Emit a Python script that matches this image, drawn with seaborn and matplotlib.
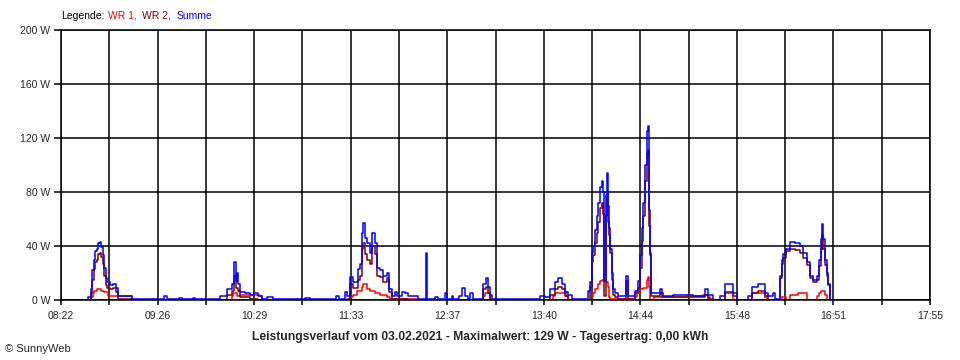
import numpy as np
import seaborn as sns
import matplotlib.pyplot as plt
from matplotlib.ticker import FixedLocator

# time in minutes since 08:22, power in W (step values)
t_sum = [0, 18.0, 19.5, 20.5, 21.5, 22.5, 23.5, 24.5, 25.5, 26.5, 27.5, 28.5, 29.5, 30.5, 32.0, 34.0,
         36.0, 37.6, 46.8, 68.0, 70.0, 78.0, 79.5, 87.0, 88.5, 104.8, 109.5, 112.8, 114.3, 115.2,
         115.8, 116.5, 118.0, 121.0, 124.6, 127.5, 130.0, 132.5, 136.0, 140.0, 160.9, 164.2, 181.3,
         183.3, 187.3, 188.6, 190.6, 192.5, 195.8, 197.2, 198.5, 199.1, 200.5, 201.8, 203.8, 205.1,
         207.0, 208.4, 210.3, 212.3, 215.0, 216.3, 218.3, 220.2, 221.6, 224.9, 226.8, 228.8, 235.4,
         241.0, 241.4, 246.6, 248.6, 253.2, 254.5, 257.8, 258.5, 262.4, 264.4, 266.4, 268.4, 269.7,
         271.7, 278.3, 280.2, 281.6, 282.9, 284.2, 315.9, 319.0, 322.5, 325.7, 327.7, 330.4, 332.3,
         334.3, 337.0, 347.5, 348.8, 350.1, 350.8, 352.1, 353.4, 354.1, 355.4, 356.7, 357.4, 358.1,
         359.4, 360.0, 360.7, 361.4, 362.0, 363.3, 364.0, 365.3, 367.3, 372.6, 373.9, 378.5, 380.4,
         381.8, 383.1, 383.7, 385.0, 386.4, 387.1, 387.7, 388.4, 389.1, 395.0, 396.0, 397.0, 403.6,
         416.7, 424.7, 426.6, 430.0, 434.5, 437.8, 443.1, 445.8, 453.0, 455.6, 459.6, 464.2, 466.2,
         469.5, 471.0, 472.8, 474.1, 475.4, 476.1, 478.1, 480.7, 484.0, 487.3, 489.3, 492.0, 493.9,
         495.9, 498.5, 499.8, 501.1, 501.8, 502.5, 503.8, 505.1, 505.8, 507.1, 573]
summe = [0, 2, 8, 22, 30, 36, 38, 42, 43, 39, 33, 24, 16, 13, 11, 12,
         9, 3, 0.5, 3, 0.5, 1.5, 0.5, 1.5, 0.5, 3, 8, 12, 28, 14,
         20, 12, 6, 5, 4, 5, 3, 0.5, 2, 0.5, 1.5, 0.5, 3,
         0.5, 6, 3, 17, 13, 23, 27, 50, 57, 46, 42, 35, 50,
         42, 24, 22, 18, 20, 8, 3, 6, 3, 6, 5, 3, 0.5,
         35, 0.5, 2, 0.5, 5, 0.5, 3, 0.5, 3, 9, 3, 0.5, 5,
         0.5, 12, 16, 10, 4, 0.5, 3, 2, 8, 13, 16, 12, 6,
         4, 1, 7, 13, 35, 40, 52, 62, 72, 84, 88, 80, 14,
         78, 94, 70, 53, 38, 20, 8, 5, 3, 18, 3, 7, 14,
         33, 53, 72, 100, 125, 129, 67, 35, 5, 8, 5, 3, 4,
         3, 8, 4, 0, 3, 12, 5, 0, 3, 10, 12, 5, 3,
         5, 1, 0, 18, 30, 34, 38, 43, 42, 40, 35, 28, 18,
         15, 18, 30, 45, 56, 45, 30, 20, 12, 0, 0]

t_wr1 = [0, 20.0, 21.0, 22.0, 24.0, 26.5, 28.5, 31.0, 46.8, 112.8, 113.4, 116.1, 118.0, 131.2, 132.5,
         190.6, 192.5, 195.2, 198.5, 199.1, 201.8, 203.8, 207.0, 210.3, 215.0, 216.9, 235.4, 278.3,
         279.5, 282.9, 324.4, 325.7, 333.0, 334.3, 349.5, 350.8, 352.1, 354.1, 355.4, 356.7, 359.4,
         360.7, 361.4, 362.0, 378.5, 379.8, 381.8, 383.7, 386.4, 387.1, 387.7, 388.4, 391.0, 412.8,
         423.3, 426.6, 428.0, 437.8, 443.1, 455.6, 464.2, 465.5, 475.4, 478.1, 480.7, 486.0, 492.0,
         498.5, 499.8, 501.1, 503.8, 505.1, 573]
wr1 = [0, 2, 5, 7, 8, 7, 6, 3, 0, 3, 5, 3, 4, 3, 0,
       2, 4, 7, 10, 12, 8, 7, 5, 4, 2, 1, 0, 3,
       5, 0, 3, 5, 3, 0, 2, 5, 8, 12, 14, 15, 13,
       10, 2, 0.5, 2, 5, 8, 9, 15, 17, 10, 0, 2, 3,
       4, 2, 0, 5, 0, 5, 2, 0, 2, 0, 4, 5, 0,
       3, 5, 7, 4, 0, 0]

t_wr2 = [0, 19.5, 20.5, 21.5, 22.5, 23.5, 24.5, 25.5, 26.5, 27.5, 28.5, 29.5, 30.5, 32.0, 34.0, 36.0,
         37.6, 46.8, 109.5, 112.8, 114.3, 115.2, 116.5, 118.0, 124.6, 130.0, 188.6, 190.6, 192.5,
         195.8, 197.2, 198.5, 199.1, 200.5, 201.8, 203.8, 205.1, 207.0, 208.4, 210.3, 212.3, 215.0,
         216.3, 218.3, 228.8, 278.3, 280.2, 281.6, 282.9, 322.5, 325.7, 327.7, 330.4, 332.3, 334.3,
         348.8, 350.1, 350.8, 352.1, 353.4, 354.1, 355.4, 356.7, 357.4, 358.1, 359.4, 360.0, 360.7,
         361.4, 362.0, 363.3, 364.0, 365.3, 367.3, 372.6, 373.9, 378.5, 380.4, 381.8, 383.1, 383.7,
         385.0, 386.4, 387.1, 387.7, 388.4, 389.1, 395.0, 396.0, 424.7, 426.6, 430.0, 437.8, 443.1,
         445.8, 455.6, 459.6, 464.2, 466.2, 474.1, 475.4, 476.1, 478.1, 480.7, 484.0, 487.3, 489.3,
         492.0, 493.9, 495.9, 498.5, 499.8, 501.1, 501.8, 502.5, 503.8, 505.1, 505.8, 507.1, 573]
wr2 = [0, 5, 15, 23, 28, 30, 34, 35, 32, 27, 18, 11, 9, 8, 9, 6,
       1, 0, 4, 7, 18, 9, 7, 2, 1, 0, 1, 12, 9,
       15, 18, 38, 42, 34, 30, 27, 40, 34, 18, 17, 13, 16,
       6, 1, 0, 8, 10, 5, 0, 4, 8, 10, 8, 3, 0,
       10, 28, 33, 42, 50, 58, 68, 72, 64, 3, 63, 80, 58,
       48, 35, 15, 4, 2, 1, 14, 1, 5, 9, 24, 44, 62,
       88, 108, 111, 55, 33, 3, 5, 2, 4, 1, 0, 6, 3,
       0, 5, 7, 3, 0, 16, 27, 31, 36, 38, 37, 35, 31,
       26, 16, 13, 15, 25, 38, 48, 38, 26, 18, 11, 0, 0]

time_labels = ['08:22', '09:26', '10:29', '11:33', '12:37', '13:40', '14:44', '15:48', '16:51', '17:55']
watt_ticks = [0, 40, 80, 120, 160, 200]

sns.set_style('white')
plt.rcParams['font.family'] = ['Liberation Sans', 'DejaVu Sans']

fig = plt.figure(figsize=(9.6, 3.6), dpi=100)
ax = fig.add_axes([61 / 960, 60 / 360, 869 / 960, 270 / 360])

span = 573.0
major = np.linspace(0, span, len(time_labels))
minor = (major[:-1] + major[1:]) / 2

ax.set_xlim(0, span)
ax.set_ylim(0, 200)
ax.xaxis.set_major_locator(FixedLocator(major))
ax.xaxis.set_minor_locator(FixedLocator(minor))
ax.set_xticklabels(time_labels)
ax.set_yticks(watt_ticks)
ax.set_yticklabels([f'{w} W' for w in watt_ticks])

ax.grid(True, which='both', axis='x', color='black', lw=1.1)
ax.grid(True, which='major', axis='y', color='black', lw=1.1)
ax.set_axisbelow(True)
for sp in ax.spines.values():
    sp.set_visible(True)
    sp.set_color('black')
    sp.set_linewidth(1.1)

ax.tick_params(axis='x', which='both', direction='out', length=3.6, width=1.1, color='black',
               labelsize=7.5, pad=4, bottom=True)
ax.tick_params(axis='y', which='major', direction='out', length=5, width=1.1, color='black',
               labelsize=7.5, pad=3, left=True)

sns.lineplot(x=t_wr1, y=wr1, ax=ax, color='#ff0000', lw=1.1, drawstyle='steps-post', estimator=None)
sns.lineplot(x=t_wr2, y=wr2, ax=ax, color='#800000', lw=1.1, drawstyle='steps-post', estimator=None)
sns.lineplot(x=t_sum, y=summe, ax=ax, color='#0000ff', lw=1.1, drawstyle='steps-post', estimator=None)
ax.set_xlabel('')
ax.set_ylabel('')

# legend line at the top
fig.text(61 / 960, 1 - 16 / 360, 'Legende:', fontsize=7.5, va='center', color='black')
fig.text(108 / 960, 1 - 16 / 360, 'WR 1,', fontsize=7.5, va='center', color='#ff0000')
fig.text(142 / 960, 1 - 16 / 360, 'WR 2,', fontsize=7.5, va='center', color='#800000')
fig.text(177 / 960, 1 - 16 / 360, 'Summe', fontsize=7.5, va='center', color='#0000ff')

fig.text(480 / 960, 1 - 337 / 360,
         'Leistungsverlauf vom 03.02.2021 - Maximalwert: 129 W - Tagesertrag: 0,00 kWh',
         fontsize=8.7, fontweight='bold', ha='center', va='center')
fig.text(5 / 960, 1 - 349 / 360, '© SunnyWeb', fontsize=8, va='center')

fig.savefig('out.png', dpi=100)
